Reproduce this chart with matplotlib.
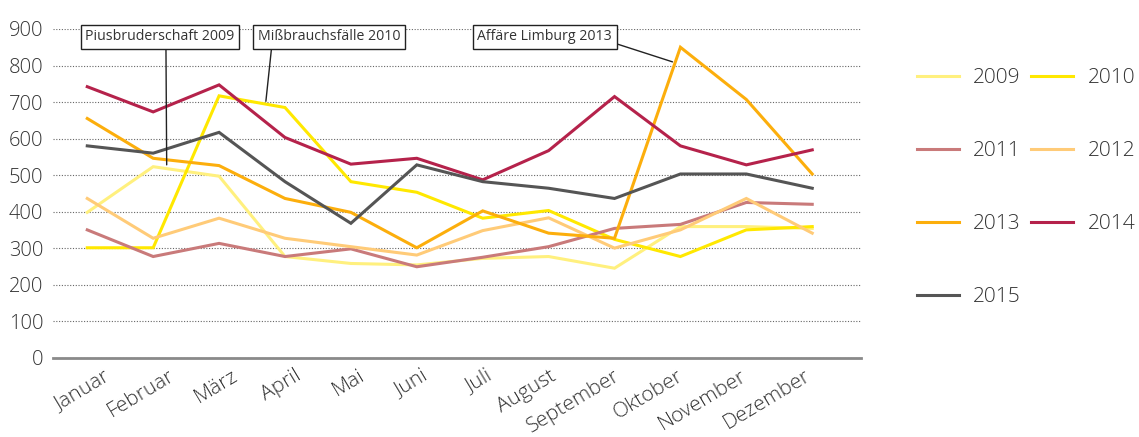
import matplotlib
matplotlib.use("Agg")
import matplotlib.pyplot as plt
from matplotlib.lines import Line2D
import matplotlib.transforms as mtransforms

plt.rcParams['font.family'] = ['Open Sans', 'DejaVu Sans']
plt.rcParams['font.weight'] = 'light'

months = ["Januar", "Februar", "März", "April", "Mai", "Juni", "Juli",
          "August", "September", "Oktober", "November", "Dezember"]

v2009 = [398, 523, 497, 277, 258, 254, 272, 277, 245, 359, 359, 354]
v2010 = [301, 301, 717, 685, 482, 453, 382, 403, 324, 277, 350, 359]
v2011 = [350, 277, 313, 277, 298, 249, 275, 304, 354, 365, 425, 420]
v2012 = [436, 327, 382, 327, 304, 281, 348, 383, 300, 350, 436, 341]
v2013 = [655, 546, 526, 436, 398, 301, 402, 341, 327, 850, 707, 503]
v2014 = [742, 673, 747, 603, 530, 546, 487, 567, 715, 580, 528, 569]
v2015 = [580, 560, 617, 482, 368, 528, 482, 464, 436, 503, 503, 464]

years = ["2009", "2010", "2011", "2012", "2013", "2014", "2015"]
colors = ["#FFF07E", "#FFE800", "#C97A7A", "#FFCB78", "#FCAE0C", "#B5224B", "#555555"]
series = [v2009, v2010, v2011, v2012, v2013, v2014, v2015]

annotations = [
    ("Piusbruderschaft 2009", (1.103, 879), (1.205, 528), (0.54, 0.0)),
    ("Mißbrauchsfälle 2010", (3.667, 879), (2.71, 702), (0.10, 0.0)),
    ("Affäre Limburg 2013", (6.94, 879), (8.88, 810), (1.0, 0.12)),
]

W, H = 1139, 437
fig = plt.figure(figsize=(W / 100, H / 100), dpi=100)
ax = fig.add_axes([53 / W, 1 - 357.7 / H, (861 - 53) / W, (357.7 - 29) / H])

x = list(range(len(months)))
handles = {}
for yr, c, vals in zip(years, colors, series):
    ln, = ax.plot(x, vals, color=c, lw=2.2, solid_joinstyle='miter', zorder=3)
    handles[yr] = ln

ax.set_xlim(-0.52, 11.74)
ax.set_ylim(0, 900)
ax.set_yticks(range(0, 901, 100))
ax.yaxis.grid(True, linestyle=(0, (1, 1.5)), color='#666666', lw=0.8)
ax.set_axisbelow(True)
for s in ['top', 'right', 'left']:
    ax.spines[s].set_visible(False)
ax.spines['bottom'].set_color('#8a8a8a')
ax.spines['bottom'].set_linewidth(2)
ax.tick_params(axis='both', length=0, labelcolor='#333333')
ax.tick_params(axis='y', pad=7, labelsize=14.5)
ax.tick_params(axis='x', pad=6, labelsize=15)
ax.set_xticks(x)
ax.set_xticklabels(months, rotation=31, ha='right')
for i, lbl in enumerate(ax.get_xticklabels()):
    offset = mtransforms.ScaledTranslation((27 - 2.3 * i) / 100, 0, fig.dpi_scale_trans)
    lbl.set_transform(lbl.get_transform() + offset)

for text, xyt, xy, rel in annotations:
    ax.annotate(text, xy=xy, xytext=xyt, textcoords='data', ha='center', va='center',
                fontsize=10.2, fontweight='normal', color='#333333', annotation_clip=False,
                bbox=dict(boxstyle='square,pad=0.32', fc='white', ec='#222222', lw=1),
                arrowprops=dict(arrowstyle='-', color='#222222', lw=1, relpos=rel,
                                shrinkA=0, shrinkB=0), zorder=5)

order = ["2009", "2011", "2013", "2015", "2010", "2012", "2014"]
leg = fig.legend([Line2D([], [], color=handles[k].get_color(), lw=2.2) for k in order], order,
                 ncol=2, loc='upper left', bbox_to_anchor=(917 / W, 1 - 68 / H),
                 frameon=False, fontsize=15, handlelength=2.0, handletextpad=0.7,
                 columnspacing=0.5, labelspacing=2.55, borderaxespad=0, borderpad=0)
for t in leg.get_texts():
    t.set_color('#333333')

fig.savefig("out.png", dpi=100)
